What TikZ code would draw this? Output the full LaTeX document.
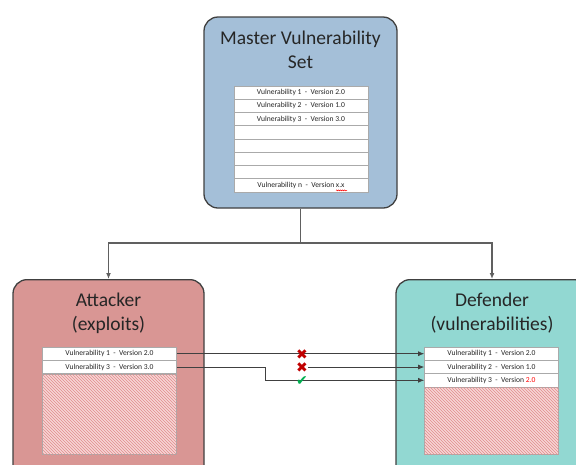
\documentclass[tikz,border=0pt]{standalone}
\usepackage{fontspec}
\setmainfont{Carlito}
\newfontfamily\symfont{DejaVu Sans}
\usetikzlibrary{arrows.meta,patterns,calc,decorations.pathmorphing}

\definecolor{masterblue}{RGB}{164,191,216}
\definecolor{attackred}{RGB}{217,150,148}
\definecolor{defendteal}{RGB}{146,216,210}
\definecolor{boxline}{RGB}{64,64,64}
\definecolor{rowline}{RGB}{170,170,170}
\definecolor{linkgray}{RGB}{96,96,96}
\definecolor{textgray}{RGB}{38,38,38}
\definecolor{hatchpink}{RGB}{246,214,214}
\definecolor{hatchred}{RGB}{226,140,140}
\definecolor{crossred}{RGB}{192,0,0}
\definecolor{tickgreen}{RGB}{0,176,80}

\begin{document}
\begin{tikzpicture}[x=1pt,y=-1pt,
  box/.style={draw=boxline,line width=1.3pt,rounded corners=14pt,inner sep=0pt},
  title/.style={font=\fontsize{19.5}{24}\selectfont,text=textgray,align=center},
  row/.style={draw=rowline,fill=white,line width=0.8pt,minimum width=134pt,minimum height=13.3pt,
    inner sep=0pt,font=\fontsize{7.6}{8}\selectfont,text=textgray},
  hatch/.style={draw=rowline,line width=0.8pt,fill=hatchpink,minimum width=134pt,inner sep=0pt,
    postaction={pattern=north west lines,pattern color=hatchred}},
  link/.style={draw=linkgray,line width=1.4pt},
  exploit/.style={draw=boxline,line width=0.7pt,-{Latex[length=6pt,width=5pt]}},
  verdict/.style={font=\symfont\fontsize{14}{14}\selectfont,inner sep=0pt,text height=10pt,text depth=0pt},
  bad/.style={verdict,text=crossred},
  good/.style={verdict,text=tickgreen}]

\useasboundingbox (0,0) rectangle (576,464);
\clip (0,0) rectangle (576,464);

\node[box,fill=masterblue,minimum width=193pt,minimum height=191pt] (master) at (300.5,112.5) {};
\node[title] (mastertitle) at (300.5,49.5) {Master Vulnerability\\Set};
\foreach \i/\txt in {1/{Vulnerability 1\ \ -\ \ Version 2.0},2/{Vulnerability 2\ \ -\ \ Version 1.0},
    3/{Vulnerability 3\ \ -\ \ Version 3.0},4/{},5/{},6/{},7/{},8/{Vulnerability n\ \ -\ \ Version x.x}}
  \node[row] (m\i) at (301,{86+13.25*(\i-0.5)}) {\txt};
\draw[red,line width=0.4pt,decorate,decoration={snake,amplitude=0.5pt,segment length=2pt}]
  ($(m8.center)+(35,5)$) -- ($(m8.center)+(46,5)$);

\node[box,fill=attackred,minimum width=191pt,minimum height=200pt,anchor=north] (attacker) at (108.5,279) {};
\node[title] (attackertitle) at (108.5,313) {Attacker\\(exploits)};
\node[row] (a1) at (109.5,353.7) {Vulnerability 1\ \ -\ \ Version 2.0};
\node[row] (a2) at (109.5,367) {Vulnerability 3\ \ -\ \ Version 3.0};
\node[hatch,minimum height=80pt] (a3) at (109.5,414) {};

\node[box,fill=defendteal,minimum width=192pt,minimum height=200pt,anchor=north] (defender) at (492,279) {};
\node[title] (defendertitle) at (492,313) {Defender\\(vulnerabilities)};
\node[row] (d1) at (491.5,353.7) {Vulnerability 1\ \ -\ \ Version 2.0};
\node[row] (d2) at (491.5,367) {Vulnerability 2\ \ -\ \ Version 1.0};
\node[row] (d3) at (491.5,380.3) {Vulnerability 3\ \ -\ \ Version \textcolor{red}{2.0}};
\node[hatch,minimum height=67pt] (d4) at (491.5,420.5) {};

\coordinate (split) at (300.5,243);
\draw[link] (master.south) -- (split);
\draw[link,-{Latex[length=6pt,width=5pt]}] (split) -| (attacker.north);
\draw[link,-{Latex[length=6pt,width=5pt]}] (split) -| (defender.north);

\draw[exploit] (a1.east) -- (d1.west);
\draw[exploit] (a2.east) -- ++(88,0) |- (d3.west);
\node[bad] (x1) at (302,354) {✖};
\node[bad] (x2) at (302,367) {✖};
\node[good] (ok) at (302,380.5) {✔};
\draw[exploit] (x2.east) -- (d2.west);

\end{tikzpicture}
\end{document}
